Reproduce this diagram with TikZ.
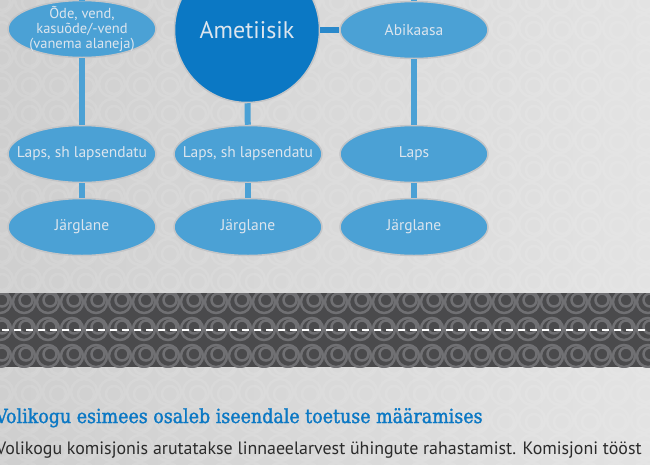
\documentclass[tikz,border=0pt]{standalone}
\usepackage{fontspec}
\setmainfont{PT Sans}
\newfontfamily\slabfont[FakeBold=1.6]{DejaVu Serif Condensed}
\usetikzlibrary{shapes.geometric}

\definecolor{kinBlue}{HTML}{4BA1D5}
\definecolor{officialBlue}{HTML}{0B78C4}
\definecolor{linkDark}{HTML}{2A89CB}
\definecolor{kinText}{HTML}{DCE5EE}
\definecolor{rimGrey}{HTML}{C4C5C7}
\definecolor{bandGrey}{HTML}{4A4A4C}
\definecolor{bandRing}{HTML}{707073}
\definecolor{bodyText}{HTML}{2B2B2B}

\begin{document}
\begin{tikzpicture}[x=1pt,y=-1pt,
  kin/.style={ellipse,draw=rimGrey,line width=1.5pt,fill=kinBlue,text=kinText,
    minimum width=148pt,minimum height=57pt,inner xsep=-25pt,inner ysep=-8pt,
    align=center,font=\fontsize{15.5}{15}\selectfont},
  link/.style={kinBlue,line width=6pt},
  ring/.style={white,opacity=.1,line width=2.5pt},
  bandring/.style={bandRing,line width=2.5pt}]
\useasboundingbox (0,0) rectangle (650,464);
% backdrop
\shade[left color=gray!38!white,right color=gray!22!white] (0,0) rectangle (650,464);
\foreach \x in {0,28,...,672}
  \foreach \y in {0,28,...,476} {
    \draw[ring] (\x,\y) circle[radius=13];
    \draw[ring] (\x+2,\y+2) circle[radius=8];
  }
% dark band
\fill[bandGrey] (0,293) rectangle (650,367);
\begin{scope}
\clip (0,293) rectangle (650,367);
\foreach \x in {0,24,...,672}
  \foreach \y in {302,329,356} {
    \draw[bandring] (\x,\y) circle[radius=11];
    \draw[bandring] (\x+2,\y-2) circle[radius=6.5];
  }
\end{scope}
\draw[white,line width=2pt,dash pattern=on 6.5pt off 5.5pt,dash phase=-2pt] (0,330) -- (650,330);

% family tree
\node[circle,draw=rimGrey,line width=1.5pt,fill=officialBlue,minimum size=145pt,
  inner sep=0pt,text=kinText,font=\fontsize{24}{28}\selectfont] (official) at (247,30) {Ametiisik};
\node[kin,font=\fontsize{14.5}{15}\selectfont] (sibling) at (82,29) {Õde, vend,\\kasuõde/-vend\\(vanema alaneja)};
\node[kin] (spouse) at (414,30) {Abikaasa};
\node[kin] (childA) at (82,154) {Laps, sh lapsendatu};
\node[kin] (childB) at (248,154) {Laps, sh lapsendatu};
\node[kin] (childC) at (414,154) {Laps};
\node[kin] (heirA) at (82,227) {Järglane};
\node[kin] (heirB) at (248,227) {Järglane};
\node[kin] (heirC) at (414,227) {Järglane};
\coordinate (upA) at (82,0);
\coordinate (upC) at (414,0);

\draw[link] (sibling) -- (upA);
\draw[link] (spouse) -- (upC);
\draw[link,linkDark] (official) -- (spouse);
\draw[link] (official) -- (childB);
\draw[link] (sibling) -- (childA);
\draw[link] (spouse) -- (childC);
\draw[link] (childA) -- (heirA);
\draw[link] (childB) -- (heirB);
\draw[link] (childC) -- (heirC);

% text below
\node[anchor=base west,inner sep=0pt,text=officialBlue,font=\slabfont\fontsize{19.4}{24}\selectfont]
  (heading) at (-5,423) {Volikogu esimees osaleb iseendale toetuse määramises};
\node[anchor=base west,inner sep=0pt,text=bodyText,font=\fontsize{17.9}{20}\selectfont]
  (body) at (-4,454) {Volikogu komisjonis arutatakse linnaeelarvest ühingute rahastamist. Komisjoni tööst};
\end{tikzpicture}
\end{document}
